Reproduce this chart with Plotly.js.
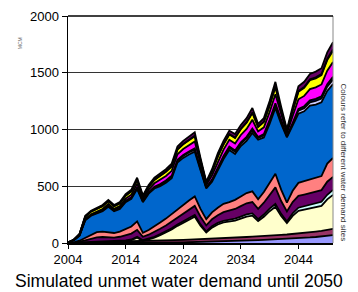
<!DOCTYPE html>
<html>
<head>
<meta charset="utf-8">
<script src="https://cdn.plot.ly/plotly-3.0.1.min.js"></script>
<style>html,body{margin:0;padding:0;background:#fff;}#chart{width:358px;height:292px;}</style>
</head>
<body>
<div id="chart"></div>
<script>
const years = [2004,2005,2006,2007,2008,2009,2010,2011,2012,2013,2014,2015,2016,2017,2018,2019,2020,2021,2022,2023,2024,2025,2026,2027,2028,2029,2030,2031,2032,2033,2034,2035,2036,2037,2038,2039,2040,2041,2042,2043,2044,2045,2046,2047,2048,2049,2050];

// bottom to top
const siteLavender = [0,0,0,0,0,0,0,0,0,0,0,0,0,0,0,0,2,3,4,5,6,7,8,8,9,10,12,14,16,18,20,22,24,25,27,29,31,33,35,38,41,45,49,53,57,63,70];
const sitePlum = [0,2,5,8,10,12,12,12,12,13,14,15,16,15,16,17,18,19,20,21,22,23,24,24,24,25,26,27,28,29,30,31,32,33,34,36,38,39,40,41,42,44,46,48,50,52,54];
const siteCream = [0,0,0,0,0,0,0,0,0,0,5,10,30,5,15,30,50,70,95,125,150,175,200,120,60,100,125,140,145,150,165,180,185,135,170,215,250,165,100,160,200,205,210,215,220,270,300];
const siteCyan = [0,0,0,0,2,3,3,3,3,4,5,6,8,5,6,7,8,9,10,12,13,14,15,12,8,12,14,15,16,17,18,19,20,17,20,23,25,20,15,22,28,30,32,34,36,40,44];
const sitePurple = [0,1,6,15,25,35,38,36,33,38,44,52,62,30,36,42,48,54,60,66,70,76,80,68,54,62,68,76,80,86,92,98,100,90,104,120,146,113,88,100,104,103,103,103,103,115,115];
const siteSalmon = [0,2,9,22,33,45,47,44,40,45,52,62,74,35,42,49,54,60,66,71,74,80,83,68,55,61,65,73,75,80,85,90,94,85,95,107,120,100,77,99,115,118,120,122,124,160,167];
const siteBlue = [5,20,45,155,170,165,180,225,192,200,240,245,285,270,320,335,320,315,315,410,415,405,395,340,270,270,330,395,460,405,445,460,515,525,480,520,580,580,575,570,610,615,650,645,650,640,650];
const siteLightLav = [0,0,2,5,5,6,6,7,6,7,8,9,11,7,8,10,12,13,14,15,16,17,18,12,7,12,16,17,18,19,20,22,24,15,18,22,25,16,8,18,26,28,30,31,32,37,40];
const siteNavy = [0,0,1,3,3,3,4,4,4,4,5,5,6,4,5,6,7,8,8,9,10,10,11,7,4,7,10,10,11,11,12,13,14,9,11,13,15,10,5,11,16,17,18,19,20,22,24];
const siteMagenta = [0,0,2,5,6,8,10,14,12,14,18,22,30,16,22,30,36,40,44,48,52,56,60,38,20,38,52,56,60,62,65,70,78,49,60,70,81,53,24,60,84,91,98,101,105,119,130];
const siteYellow = [0,4,8,20,22,23,24,23,22,23,25,28,33,21,25,30,34,36,38,40,42,45,47,31,17,31,42,45,47,48,51,55,60,39,47,55,63,41,19,47,66,72,78,80,82,93,100];
const siteTeal = [0,0,0,0,1,1,1,1,1,1,2,2,2,1,2,2,2,3,3,3,3,4,4,3,1,3,3,4,4,4,4,5,5,3,4,5,6,4,2,4,6,7,8,9,10,10,11];
const siteDarkPurple = [0,1,2,7,8,9,10,11,10,11,12,14,18,11,13,17,19,20,23,25,27,28,30,19,11,19,27,28,30,31,33,35,39,25,30,35,40,26,12,30,42,45,48,50,51,59,65];

const xTicks = [2004,2014,2024,2034,2044];
const yTicks = [0,500,1000,1500,2000];

const layers = [
  [siteLavender,'#9999FF'],
  [sitePlum,'#993366'],
  [siteCream,'#FFFFCC'],
  [siteCyan,'#CCFFFF'],
  [sitePurple,'#660066'],
  [siteSalmon,'#FF8080'],
  [siteBlue,'#0066CC'],
  [siteLightLav,'#CCCCFF'],
  [siteNavy,'#000080'],
  [siteMagenta,'#FF00FF'],
  [siteYellow,'#FFFF00'],
  [siteTeal,'#008080'],
  [siteDarkPurple,'#660066']
];

const traces = layers.map(([vals,col]) => ({
  x: years, y: vals, type:'scatter', mode:'lines', stackgroup:'one',
  fillcolor: col, line:{color:'#000', width:1.8}, hoverinfo:'skip', showlegend:false
}));

const font = 'Liberation Sans, Arial, sans-serif';
const layout = {
  width:358, height:292,
  margin:{l:68, r:25, t:16, b:49},
  paper_bgcolor:'#fff', plot_bgcolor:'#fff',
  font:{family:font, color:'#000'},
  xaxis:{range:[2004,2050], tickvals:xTicks, ticktext:xTicks.map(String), ticks:'outside', ticklen:4,
         tickcolor:'#000', showline:true, linecolor:'#000', linewidth:1.5, mirror:false,
         showgrid:false, zeroline:false, tickfont:{size:13, family:font}},
  yaxis:{range:[0,2000], tickvals:yTicks, ticktext:yTicks.map(String), ticks:'outside', ticklen:5,
         tickcolor:'#000', showline:true, linecolor:'#000', linewidth:1.5,
         showgrid:true, gridcolor:'#333', gridwidth:1, zeroline:false, tickfont:{size:13, family:font}},
  shapes:[
    {type:'line', xref:'paper', yref:'paper', x0:1, x1:1, y0:0, y1:1, line:{color:'#888', width:1}},
    {type:'line', xref:'paper', yref:'paper', x0:0, x1:1, y0:1, y1:1, line:{color:'#000', width:1.5}}
  ],
  annotations:[
    {text:'Simulated unmet water demand until 2050', xref:'paper', yref:'paper', x:0.5, y:0, yshift:-38,
     xanchor:'center', yanchor:'middle', showarrow:false, font:{size:17.5, family:font, color:'#000'}, xshift:-21.5},
    {text:'Colours refer to different water demand sites', xref:'paper', yref:'paper', x:1, y:0.5,
     xanchor:'center', yanchor:'middle', textangle:90, xshift:10, yshift:-33, showarrow:false,
     font:{size:8, family:font, color:'#333'}},
    {text:'MCM', xref:'paper', yref:'paper', x:0, y:0.88, xanchor:'center', yanchor:'middle',
     textangle:-90, xshift:-48, showarrow:false, font:{size:5, family:font, color:'#666'}}
  ]
};

Plotly.newPlot('chart', traces, layout, {staticPlot:true, displayModeBar:false});
</script>
</body>
</html>
